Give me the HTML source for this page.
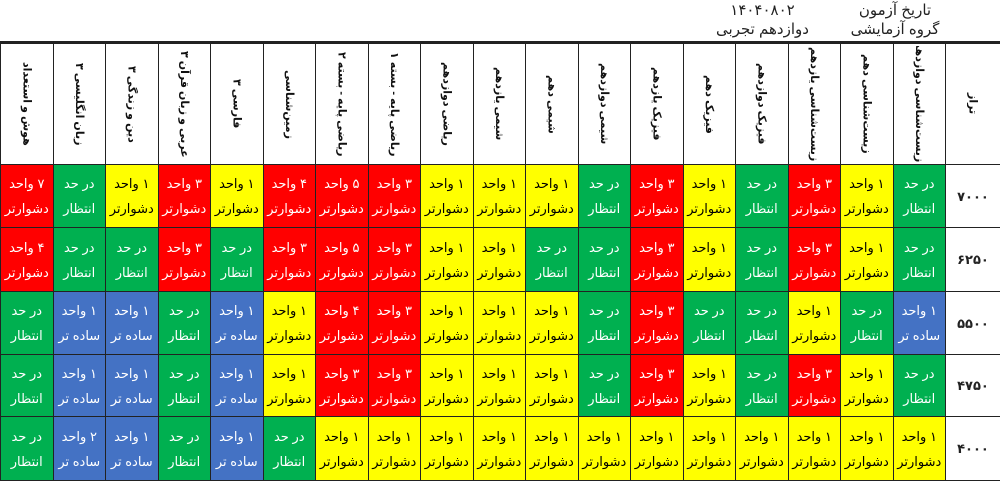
<!DOCTYPE html>
<html><head><meta charset="utf-8">
<style>
html,body{margin:0;padding:0;background:#fff;width:1000px;height:479px;overflow:hidden;font-family:"Liberation Sans","DejaVu Sans",sans-serif;}
.top{position:absolute;font-size:15px;color:#222;text-align:center;line-height:19px;direction:rtl;}
table{position:absolute;left:0;top:41px;width:1000px;border-collapse:collapse;table-layout:fixed;direction:ltr;border-top:3px solid #222;}
td{border:1.5px solid #222;padding:0;text-align:center;vertical-align:middle;font-size:13px;line-height:25px;direction:rtl;overflow:hidden;}
th{border:1.5px solid #222;padding:0;height:120px;vertical-align:middle;font-weight:bold;font-size:11px;color:#111;overflow:hidden;}
th div{writing-mode:vertical-rl;direction:rtl;margin:0 auto;text-align:center;white-space:nowrap;height:116px;overflow:hidden;}
td.t{background:#fff;font-weight:bold;color:#222;}
.R{background:#ff0000;color:#fff;}
.G{background:#00b050;color:#fff;}
.Y{background:#ffff00;color:#000;}
.B{background:#4472c4;color:#fff;}
</style></head><body>
<div class="top" style="left:850px;top:1px;width:90px;">تاریخ آزمون<br>گروه آزمایشی</div>
<div class="top" style="left:715px;top:1px;width:95px;">۱۴۰۴۰۸۰۲<br>دوازدهم تجربی</div>
<table id="t"></table>
<script>
var heads=["هوش و استعداد","زبان انگلیسی ۳","دین و زندگی ۳","عربی و زبان قرآن ۳","فارسی ۳","زمین‌شناسی","ریاضی پایه - بسته ۲","ریاضی پایه - بسته ۱","ریاضی دوازدهم","شیمی یازدهم","شیمی دهم","شیمی دوازدهم","فیزیک یازدهم","فیزیک دهم","فیزیک دوازدهم","زیست‌شناسی یازدهم","زیست‌شناسی دهم","زیست‌شناسی دوازدهم"];
var rows=[
["۷۰۰۰",63,"R7 G Y1 R3 Y1 R4 R5 R3 Y1 Y1 Y1 G R3 Y1 G R3 Y1 G"],
["۶۲۵۰",64,"R4 G G R3 G R3 R5 R3 Y1 Y1 G G R3 Y1 G R3 Y1 G"],
["۵۵۰۰",63,"G B1 B1 G B1 Y1 R4 R3 Y1 Y1 Y1 G R3 G G Y1 G B1"],
["۴۷۵۰",62,"G B1 B1 G B1 Y1 R3 R3 Y1 Y1 Y1 G R3 Y1 G R3 Y1 G"],
["۴۰۰۰",64,"G B2 B1 G B1 G Y1 Y1 Y1 Y1 Y1 Y1 Y1 Y1 Y1 Y1 Y1 Y1"]];
var fa="۰۱۲۳۴۵۶۷۸۹";
var h='<colgroup>';for(var i=0;i<18;i++)h+='<col style="width:52.5px">';h+='<col style="width:55px"></colgroup><tr style="height:121px">';
heads.forEach(function(s){h+='<th><div>'+s+'</div></th>';});
h+='<th><div>تراز</div></th></tr>';
rows.forEach(function(r){
 h+='<tr style="height:'+r[1]+'px">';
 r[2].split(' ').forEach(function(c){
  var k=c[0],n=c.slice(1),txt;
  if(k=='G')txt='در حد<br>انتظار';
  else if(k=='B')txt=fa[+n]+' واحد<br>ساده تر';
  else txt=fa[+n]+' واحد<br>دشوارتر';
  h+='<td class="'+k+'">'+txt+'</td>';
 });
 h+='<td class="t">'+r[0]+'</td></tr>';
});
document.getElementById('t').innerHTML=h;
</script>
</body></html>
